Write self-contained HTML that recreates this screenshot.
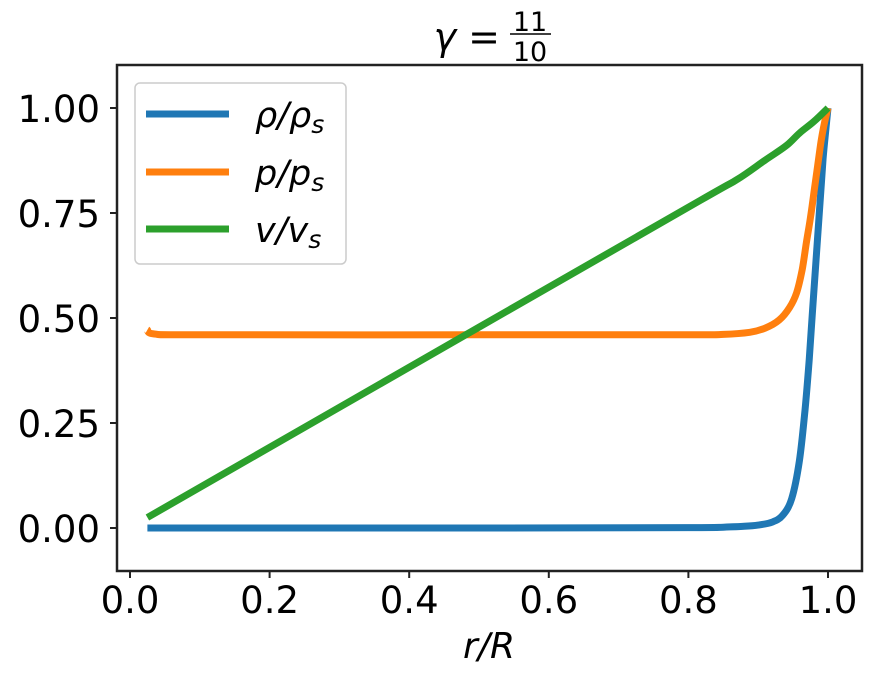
<!DOCTYPE html>
<html><head><meta charset="utf-8"><style>
html,body{margin:0;padding:0;background:#fff;}
svg text{font-family:"DejaVu Sans","Liberation Sans",sans-serif;fill:#000;}
</style></head><body>
<svg id="chart" width="885" height="680" xmlns="http://www.w3.org/2000/svg">
<rect x="0" y="0" width="885" height="680" fill="#fff"/>
<g id="plot"></g>
<text x="500" y="50" font-size="38" font-style="italic" text-anchor="end">γ =</text>
<text x="530" y="31" font-size="27" text-anchor="middle">11</text>
<line x1="510" y1="34" x2="551" y2="34" stroke="#000" stroke-width="1.5"/>
<text x="530" y="61" font-size="27" text-anchor="middle">10</text>
<text x="489" y="658" font-size="36" text-anchor="middle" font-style="italic">r/R</text>
<g>
<rect x="135" y="83" width="211" height="181" rx="5" fill="#fff" stroke="#ccc" stroke-width="1.5"/>
<line x1="146" y1="114" x2="229" y2="114" stroke="#1f77b4" stroke-width="7"/>
<text x="255" y="127" font-size="35" font-style="italic">ρ/ρ<tspan font-size="25" dy="6">s</tspan></text>
<line x1="146" y1="172" x2="229" y2="172" stroke="#ff7f0e" stroke-width="7"/>
<text x="255" y="185" font-size="35" font-style="italic">p/p<tspan font-size="25" dy="6">s</tspan></text>
<line x1="146" y1="229" x2="229" y2="229" stroke="#2ca02c" stroke-width="7"/>
<text x="255" y="242" font-size="35" font-style="italic">v/v<tspan font-size="25" dy="6">s</tspan></text>
</g>
</svg>
<script>
const rRho=[0.025,0.5,0.8,0.85,0.88,0.9,0.92,0.935,0.948,0.959,0.967,0.973,0.978,0.983,0.988,0.993,0.997,1.0];
const rho=[0,0,0.001,0.002,0.004,0.007,0.014,0.03,0.07,0.16,0.28,0.40,0.52,0.64,0.76,0.88,0.95,1.0];
const rP=[0.025,0.035,0.1,0.5,0.8,0.85,0.888,0.91,0.93,0.945,0.955,0.963,0.969,0.975,0.98,0.985,0.99,0.995,1.0];
const pVals=[0.472,0.462,0.46,0.46,0.46,0.461,0.466,0.476,0.495,0.525,0.56,0.615,0.68,0.74,0.80,0.86,0.92,0.965,1.0];
const rV=[0.025,0.5,0.817,0.87,0.91,0.94,0.959,0.98,1.0];
const vVals=[0.025,0.478,0.78,0.83,0.876,0.91,0.94,0.968,1.0];
const xTicks=[0.0,0.2,0.4,0.6,0.8,1.0];
const xTickLabels=["0.0","0.2","0.4","0.6","0.8","1.0"];
const yTicks=[0,0.25,0.5,0.75,1.0];
const yTickLabels=["0.00","0.25","0.50","0.75","1.00"];

const L=117,R=862,T=65,B=571;
function xs(v){return 130+v*698;}
function ys(v){return 528-v*420;}
const NS="http://www.w3.org/2000/svg";
const g=document.getElementById('plot');
function el(t,a){const e=document.createElementNS(NS,t);for(const k in a)e.setAttribute(k,a[k]);g.appendChild(e);return e;}
function series(xsArr,ysArr,color,name){
  const P=xsArr.map((x,i)=>[xs(x),ys(ysArr[i])]);
  let d="M"+P[0][0].toFixed(1)+","+P[0][1].toFixed(1);
  for(let i=0;i<P.length-1;i++){
    const p0=P[Math.max(0,i-1)],p1=P[i],p2=P[i+1],p3=P[Math.min(P.length-1,i+2)];
    const c1=[p1[0]+(p2[0]-p0[0])/6,p1[1]+(p2[1]-p0[1])/6];
    const c2=[p2[0]-(p3[0]-p1[0])/6,p2[1]-(p3[1]-p1[1])/6];
    d+="C"+c1[0].toFixed(1)+","+c1[1].toFixed(1)+" "+c2[0].toFixed(1)+","+c2[1].toFixed(1)+" "+p2[0].toFixed(1)+","+p2[1].toFixed(1);
  }
  const p=el('path',{d:d,fill:'none',stroke:color,'stroke-width':7,'stroke-linejoin':'round'});
  
  
}
series(rRho,rho,'#1f77b4','rho-line');
series(rP,pVals,'#ff7f0e','p-line');
series(rV,vVals,'#2ca02c','v-line');
const frame=el('rect',{x:L,y:T,width:R-L,height:B-T,fill:'none',stroke:'#222','stroke-width':2.5});


xTicks.forEach((v,i)=>{
  const x=xs(v);
  el('line',{x1:x,y1:B,x2:x,y2:B+7,stroke:'#222','stroke-width':2});
  const t=el('text',{x:x,y:613,'font-size':37,'text-anchor':'middle'});
  t.textContent=xTickLabels[i];
  
  
});
yTicks.forEach((v,i)=>{
  const y=ys(v);
  el('line',{x1:L-7,y1:y,x2:L,y2:y,stroke:'#222','stroke-width':2});
  const t=el('text',{x:L-17,y:y+14,'font-size':37,'text-anchor':'end'});
  t.textContent=yTickLabels[i];
  
  
});
</script>
</body></html>
